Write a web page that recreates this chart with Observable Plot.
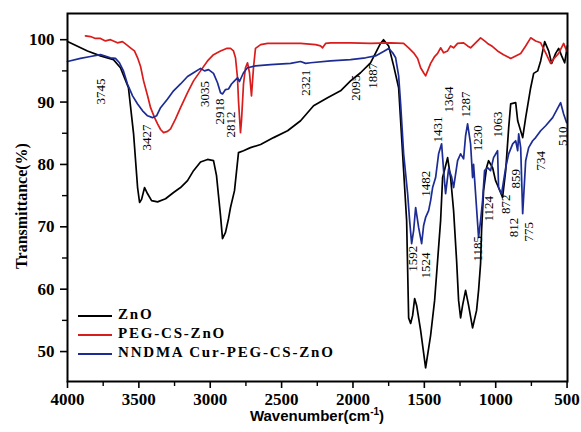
<!DOCTYPE html>
<html><head><meta charset="utf-8">
<script src="https://cdn.jsdelivr.net/npm/d3@7"></script>
<script src="https://cdn.jsdelivr.net/npm/@observablehq/plot@0.6"></script>
<style>body{margin:0;background:#fff;}</style>
</head><body><div id="chart"></div>
<script>
const seriesNames = ["ZnO", "PEG-CS-ZnO", "NNDMA Cur-PEG-CS-ZnO"];
const seriesColors = ["#000000", "#d91c1c", "#1c2c94"];

const znoWn = [4000,3860,3769,3678,3629,3573,3537,3509,3495,3481,3460,3439,3411,3369,3313,3257,3208,3159,3117,3068,3019,2977,2956,2942,2928,2914,2893,2872,2858,2830,2802,2767,2718,2647,2556,2458,2367,2276,2178,2087,2017,1947,1877,1807,1786,1750,1715,1680,1645,1624,1610,1596,1582,1568,1554,1526,1491,1456,1428,1407,1386,1372,1351,1337,1316,1295,1274,1260,1246,1232,1211,1190,1162,1134,1120,1106,1099,1085,1064,1050,1022,1001,980,952,930,909,895,860,846,811,790,755,734,706,685,657,629,608,580,559,538,517,498];
const znoT = [99.7,98.2,97.4,96.8,95.5,92.3,84.9,76.3,73.9,74.4,76.3,75.3,74.2,74.0,74.5,75.5,76.3,77.4,79.0,80.4,80.8,80.6,78.2,75.0,71.8,68.1,69.1,71.3,73.1,75.8,81.9,82.2,82.7,83.2,84.3,85.4,87.0,89.4,90.7,91.8,93.4,94.7,96.3,99.4,100.0,99.0,95.8,92.3,79.0,71.0,55.4,54.5,55.8,58.5,57.4,53.4,47.4,52.6,58.2,64.6,71.0,77.9,79.8,81.1,77.9,72.6,64.6,58.2,55.4,57.4,59.8,57.4,53.8,56.6,59.8,64.1,69.4,75.8,79.5,80.6,79.5,77.4,76.3,74.7,79.0,85.9,89.7,89.9,87.0,84.3,87.5,92.3,94.6,95.0,96.6,99.7,98.2,96.2,97.8,98.6,97.4,96.3,99.0];

const pegWn = [3874,3839,3804,3769,3734,3699,3650,3615,3587,3559,3531,3509,3488,3467,3439,3418,3390,3369,3348,3327,3299,3278,3243,3208,3159,3117,3068,3019,2977,2928,2886,2858,2837,2823,2809,2802,2788,2781,2767,2753,2739,2725,2711,2697,2683,2647,2598,2507,2367,2262,2227,2213,2192,2157,2017,1877,1737,1645,1610,1575,1547,1526,1505,1491,1470,1456,1428,1407,1386,1365,1337,1316,1295,1267,1225,1197,1176,1141,1106,1078,1057,1022,987,945,895,860,825,790,755,720,685,650,615,594,559,524,503];
const pegT = [100.6,100.5,100.2,100.2,99.8,100.0,99.5,99.7,99.2,98.7,98.2,97.1,95.7,93.4,91.0,89.1,87.5,86.5,85.6,85.1,85.3,85.7,87.3,89.1,91.5,93.4,95.0,96.6,97.6,98.2,98.6,98.6,98.2,97.1,93.9,90.2,85.1,87.0,92.9,95.5,96.3,94.7,91.0,95.5,98.6,99.2,99.4,99.4,99.4,99.2,99.0,98.7,99.4,99.5,99.5,99.4,99.5,99.4,98.7,97.9,97.0,95.5,94.7,94.2,95.4,96.2,97.3,97.8,98.7,97.9,98.2,99.0,98.7,99.4,99.5,99.0,98.7,99.5,100.3,99.8,99.4,98.9,98.2,97.6,97.0,97.4,97.8,99.0,100.3,99.8,99.5,97.9,96.2,96.9,97.8,99.4,98.2];

const curWn = [4000,3909,3839,3769,3699,3664,3636,3608,3580,3544,3509,3474,3439,3404,3376,3348,3299,3257,3208,3159,3117,3068,3040,3012,2977,2949,2928,2914,2893,2872,2851,2830,2809,2795,2767,2739,2683,2577,2437,2367,2332,2297,2157,2017,1912,1842,1786,1750,1722,1701,1680,1666,1645,1617,1603,1589,1575,1561,1540,1519,1505,1491,1470,1456,1442,1421,1400,1379,1365,1351,1330,1309,1295,1267,1246,1225,1211,1197,1176,1162,1155,1141,1120,1106,1092,1078,1057,1036,1015,987,980,959,930,909,881,860,846,839,825,811,790,769,741,720,685,650,601,545,524,503];
const curT = [96.5,97.0,97.3,97.6,97.1,97.0,96.3,95.0,92.9,91.0,89.7,88.6,87.8,87.5,87.8,89.1,90.5,91.8,92.9,94.1,94.7,95.4,95.0,95.2,94.6,93.1,91.5,91.3,92.0,92.1,92.9,93.4,93.9,93.3,94.7,95.5,95.8,96.0,96.2,96.5,96.2,96.3,96.6,96.8,97.1,97.4,98.1,98.6,97.9,97.1,94.2,89.7,81.7,75.3,71.0,67.3,69.4,73.1,69.9,67.3,70.2,71.5,72.6,74.2,76.3,77.9,81.7,83.3,79.0,75.3,79.3,78.0,76.3,80.6,81.7,80.9,84.6,86.5,83.3,77.9,80.0,75.3,68.3,71.0,74.2,79.0,79.5,79.0,81.1,82.2,76.3,75.3,79.5,81.7,83.3,83.8,82.2,84.9,82.7,72.1,80.6,82.7,83.8,84.3,85.4,86.2,87.5,89.9,88.1,86.7];

const peakLabels = ["3745","3427","3035","2918","2812","2321","2095","1887","1592","1524","1482","1431","1364","1287","1230","1185","1124","1063","872","859","812","775","734","510"];
const peakWn = [3769,3446,3040,2935,2858,2332,1982,1863,1582,1491,1491,1407,1330,1211,1127,1127,1050,987,930,860,874,769,685,531];
const peakT = [91.7,84.3,91.3,88.5,86.4,93.1,92.3,94.2,64.9,63.8,76.9,85.6,90.4,89.6,84.2,66.5,72.9,86.4,73.6,77.7,69.9,69.2,80.6,84.5];

const xTicks = [4000,3500,3000,2500,2000,1500,1000,500];
const xMinor = [3750,3250,2750,2250,1750,1250,750];
const yTicks = [50,60,70,80,90,100];
const yMinor = [55,65,75,85,95];

const toRows = (wn, t) => wn.map((w, i) => ({wn: w, t: t[i]}));
const series = [toRows(znoWn, znoT), toRows(pegWn, pegT), toRows(curWn, curT)];
const peaks = peakLabels.map((s, i) => ({label: s, wn: peakWn[i], t: peakT[i]}));

const serif = "'Liberation Serif', 'Times New Roman', serif";
const sans = "'Liberation Sans', Arial, sans-serif";

const plot = Plot.plot({
  width: 581,
  height: 432,
  marginLeft: 67,
  marginRight: 14,
  marginTop: 13,
  marginBottom: 51,
  x: {domain: [4000, 497]},
  y: {domain: [45.2, 104.2]},
  style: {background: "#fff", fontFamily: serif},
  marks: [
    Plot.axisX({ticks: xTicks, tickSize: 7, tickPadding: 4, strokeWidth: 1.6, fontSize: 17, fontWeight: "bold", fontFamily: serif, label: null, tickFormat: d => String(d)}),
    Plot.axisX({ticks: xMinor, tickSize: 5, strokeWidth: 1.4, tickFormat: () => "", label: null}),
    Plot.axisY({ticks: yTicks, tickSize: 7, tickPadding: 6, strokeWidth: 1.6, fontSize: 17, fontWeight: "bold", fontFamily: serif, label: null}),
    Plot.axisY({ticks: yMinor, tickSize: 5, strokeWidth: 1.4, tickFormat: () => "", label: null}),
    ...series.map((rows, i) => Plot.line(rows, {x: "wn", y: "t", stroke: seriesColors[i], strokeWidth: 1.7, curve: "linear"})),
    Plot.text(peaks, {x: "wn", y: "t", text: "label", rotate: -90, textAnchor: "middle", lineAnchor: "middle", fontSize: 13, fontFamily: serif, fill: "#000"}),
    Plot.frame({stroke: "#000", strokeWidth: 2})
  ]
});
document.getElementById("chart").appendChild(plot);

const svg = d3.select(plot);
// axis titles
const xt = svg.append("text")
  .attr("x", 317).attr("y", 421)
  .attr("text-anchor", "middle")
  .style("font-family", sans).style("font-weight", "bold").style("font-size", "15px")
  .attr("fill", "#000");
xt.append("tspan").text("Wavenumber(cm");
xt.append("tspan").text("-1").attr("dy", -6).style("font-size", "10px");
xt.append("tspan").text(")").attr("dy", 6);

svg.append("text")
  .attr("transform", "translate(23,206) rotate(-90)")
  .attr("text-anchor", "middle").attr("dominant-baseline", "middle")
  .style("font-family", serif).style("font-weight", "bold").style("font-size", "16px")
  .attr("fill", "#000")
  .text("Transmittance(%)");

// legend
const lg = svg.append("g").attr("transform", "translate(78,316)");
seriesNames.forEach((name, i) => {
  const y = i * 19;
  lg.append("line").attr("x1", 0).attr("x2", 34).attr("y1", y).attr("y2", y)
    .attr("stroke", seriesColors[i]).attr("stroke-width", 2);
  lg.append("text").attr("x", 40).attr("y", y)
    .attr("text-anchor", "start").attr("dominant-baseline", "middle")
    .style("font-family", serif).style("font-weight", "bold").style("font-size", "15px")
    .style("letter-spacing", "1.8px").attr("fill", "#000").text(name);
});
</script>
</body></html>
